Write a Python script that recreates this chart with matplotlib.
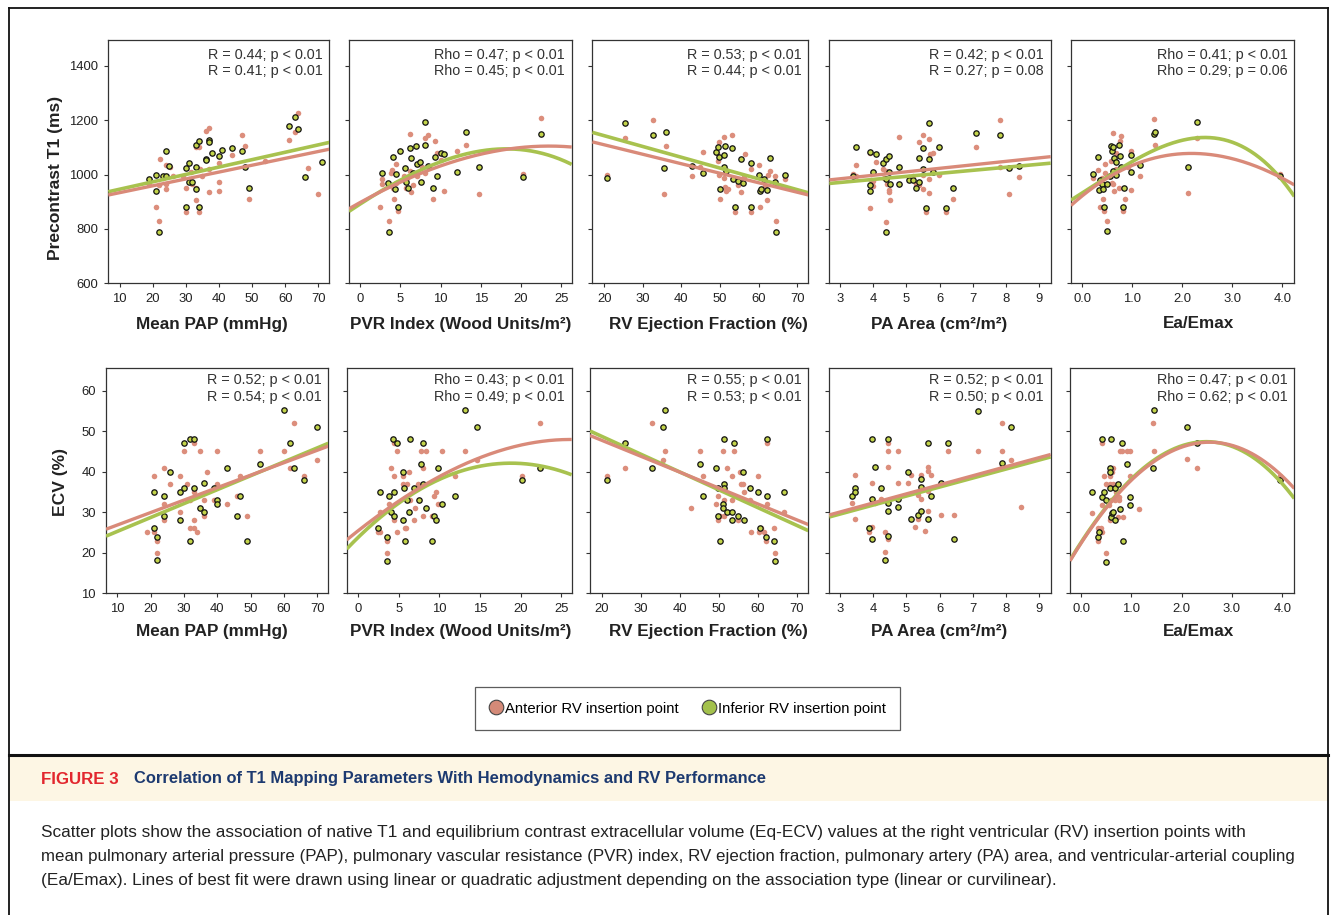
import numpy as np
import matplotlib
matplotlib.use("Agg")
import matplotlib.pyplot as plt
from matplotlib.patches import Rectangle
from matplotlib.lines import Line2D
from matplotlib import font_manager

# ---------------- DATA ----------------
XLABELS = ['Mean PAP (mmHg)', 'PVR Index (Wood Units/m\u00b2)', 'RV Ejection Fraction (%)',
           'PA Area (cm\u00b2/m\u00b2)', 'Ea/Emax']
YLABELS = ['Precontrast T1 (ms)', 'ECV (%)']
XTICKS = [[10, 20, 30, 40, 50, 60, 70], [0, 5, 10, 15, 20, 25], [20, 30, 40, 50, 60, 70],
          [3, 4, 5, 6, 7, 8, 9], [0.0, 1.0, 2.0, 3.0, 4.0]]
YTICKS = [[600, 800, 1000, 1200, 1400], [10, 20, 30, 40, 50, 60]]
STATS_T1 = [("R = 0.44; p < 0.01", "R = 0.41; p < 0.01"),
            ("Rho = 0.47; p < 0.01", "Rho = 0.45; p < 0.01"),
            ("R = 0.53; p < 0.01", "R = 0.44; p < 0.01"),
            ("R = 0.42; p < 0.01", "R = 0.27; p = 0.08"),
            ("Rho = 0.41; p < 0.01", "Rho = 0.29; p = 0.06")]
STATS_ECV = [("R = 0.52; p < 0.01", "R = 0.54; p < 0.01"),
             ("Rho = 0.43; p < 0.01", "Rho = 0.49; p < 0.01"),
             ("R = 0.55; p < 0.01", "R = 0.53; p < 0.01"),
             ("R = 0.52; p < 0.01", "R = 0.50; p < 0.01"),
             ("Rho = 0.47; p < 0.01", "Rho = 0.62; p < 0.01")]
SERIES = ['Anterior RV insertion point', 'Inferior RV insertion point']

# T1 vs mean PAP
T1_PAP_INF_X = [19,21,21,22,23,24,24,25,30,30,31,31,32,33,33,33,34,34,36,36,37,37,38,40,41,44,47,48,49,61,63,64,66,71]
T1_PAP_INF_Y = [984,999,941,790,993,1085,996,1033,1023,880,1043,974,974,947,1029,1109,880,1124,1058,1052,1128,1119,1080,1069,1092,1098,1086,1028,950,1178,1213,1168,990,1045]
T1_PAP_ANT_X = [19,21,22,22.2,21.8,23,24,24,24.1,25.2,26,29,30,30,31,31.5,32,33,33,33,34,34,34.2,35,36,37,37,37,40,40,40,44,47,48,49,54,61,63,64,67,70]
T1_PAP_ANT_Y = [964,880,829,1058,962,989,966,947,1036,1026,993,993,950,864,984,1011,966,908,950,1103,864,1101,1021,994,1162,1171,1022,937,1043,972,939,1071,1144,1106,910,1050,1128,1156,1227,1023,930]
# T1 vs PVR index
T1_PVR_INF_X = [2.7,3.5,3.6,4.1,4.3,4.4,4.75,4.9,5.6,5.7,6.0,6.2,6.3,6.5,6.9,7.0,7.4,7.6,8.0,8.0,8.4,9.05,9.3,9.6,10.0,10.4,12.0,13.2,14.75,20.3,22.5]
T1_PVR_INF_Y = [1004,969,790,1064,947,1001,880,1087,1023,974,952,1099,1060,1007,1104,1038,1048,974,1195,1109,1032,952,1066,996,1080,1075,1009,1158,1027,991,1150]
T1_PVR_ANT_X = [2.5,2.7,2.7,3.6,3.7,3.8,4.0,4.1,4.25,4.4,4.5,4.75,4.9,5.5,5.7,5.8,6.1,6.2,6.2,6.3,6.5,7.0,7.6,7.7,8.0,8.0,8.4,9.05,9.3,9.6,10.0,10.4,12.0,13.2,14.75,20.3,22.5]
T1_PVR_ANT_Y = [881,984,966,831,962,1004,1015,950,909,1039,968,865,1085,993,950,987,993,1013,1151,937,960,995,971,1027,1136,1004,1144,910,1124,1079,1052,941,1086,1108,930,1001,1207]
# T1 vs RV ejection fraction
T1_RVEF_INF_X = [20.7,25.5,32.7,35.9,35.4,42.8,45.6,48.9,49.6,49.8,50.1,51.0,51.0,51.4,51.6,53.2,53.4,53.8,54.6,55.4,56.0,58.1,58.1,60.0,60.3,60.7,61.5,62.2,63.0,64.2,64.4,66.8]
T1_RVEF_INF_Y = [989,1190,1146,1155,1025,1033,1006,1082,1102,1064,948,1071,1027,1104,1014,1097,984,879,978,1059,968,1044,879,999,940,948,983,945,1061,972,790,1000]
T1_RVEF_ANT_X = [20.7,25.5,32.6,35.9,35.4,42.8,44.9,45.6,49.2,49.4,49.8,49.8,50.1,51.0,51.0,51.3,51.6,52.1,53.2,53.8,54.7,55.4,55.8,56.3,56.5,58.1,58.1,60.1,60.3,61.7,62.2,62.4,63.0,64.2,64.4,66.8]
T1_RVEF_ANT_Y = [1000,1133,1202,1104,929,994,1027,1082,1079,1049,1120,999,909,1140,989,956,940,947,1147,864,963,935,971,990,1076,1020,864,1036,879,959,907,998,1012,993,829,984]
# T1 vs PA area
T1_PA_INF_X = [3.38,3.48,3.89,3.89,3.89,3.99,4.09,4.29,4.38,4.38,4.38,4.48,4.48,4.5,4.79,4.79,5.09,5.19,5.29,5.39,5.39,5.49,5.49,5.59,5.68,5.68,5.8,5.99,6.19,6.39,7.09,7.8,8.1,8.4]
T1_PA_INF_Y = [996,1101,1083,963,939,1008,1076,1044,1059,789,982,1069,1010,965,1027,966,979,980,949,1061,974,1096,1020,878,1188,1057,1010,1103,878,949,1153,1145,1024,1033]
T1_PA_ANT_X = [3.38,3.48,3.48,3.89,3.89,3.94,3.99,3.99,4.09,4.29,4.33,4.38,4.4,4.43,4.48,4.48,4.5,4.79,4.79,5.09,5.19,5.29,5.39,5.39,5.49,5.49,5.49,5.59,5.68,5.68,5.68,5.71,5.8,5.99,6.19,6.39,7.09,7.8,7.8,8.1,8.4]
T1_PA_ANT_Y = [1001,1035,994,878,1080,980,958,976,1047,1020,988,827,1013,964,945,937,905,1138,967,992,994,964,1120,961,1147,998,947,864,1131,982,933,1076,1081,998,864,909,1103,1202,1027,928,992]
# T1 vs Ea/Emax
T1_EA_INF_X = [0.21,0.32,0.35,0.34,0.39,0.41,0.43,0.49,0.5,0.56,0.57,0.59,0.61,0.61,0.64,0.68,0.68,0.73,0.76,0.77,0.81,0.84,0.98,0.98,1.16,1.44,1.46,2.12,2.30,3.95]
T1_EA_INF_Y = [1002,1064,981,943,964,948,881,967,791,995,1104,1085,1100,1012,1060,1048,999,1109,1067,1028,881,952,1009,1073,1036,1149,1158,1027,1194,995]
T1_EA_ANT_X = [0.21,0.32,0.35,0.36,0.39,0.41,0.43,0.45,0.45,0.5,0.53,0.56,0.57,0.59,0.59,0.61,0.62,0.64,0.66,0.68,0.68,0.74,0.76,0.78,0.82,0.85,0.92,0.97,0.98,1.16,1.44,1.46,2.12,2.30,3.95]
T1_EA_ANT_Y = [986,1016,881,968,986,910,865,1038,1006,831,994,993,1051,1090,970,1152,964,940,1004,1080,1021,949,1125,1143,865,911,1028,1088,942,996,1206,1107,932,1136,1002]

# ECV vs mean PAP
ECV_PAP_INF_X = [20.9,20.9,21.9,21.9,23.9,23.9,25.9,28.9,28.9,29.9,29.9,31.9,31.9,32.9,32.9,34.9,35.9,35.9,38.9,39.9,39.9,42.9,45.9,46.9,48.9,52.9,59.9,61.9,62.9,65.9,69.9]
ECV_PAP_INF_Y = [26,35,24,18.1,34,29.1,40,35,28,47,36,48.1,23,48.1,36,31,37.1,30,36,33,32,41,29,34,23,42,55.1,47,41,38,51]
ECV_PAP_ANT_X = [18.9,20.9,20.9,21.9,21.9,23.9,23.9,23.9,25.9,28.9,28.9,29.9,30.9,30.9,31.9,31.9,32.9,32.9,32.9,32.9,33.9,34.9,34.9,35.9,35.9,36.9,38.9,39.9,39.9,42.9,45.9,46.9,48.9,52.9,59.9,61.9,62.9,65.9,69.9]
ECV_PAP_ANT_Y = [25,39,25,23,20,41,32,28,37,39,30,45,33,37,33,26,47,35,28,26,25,45,31,33,29,40,33,45,37,32,34,39,29,45,45,41,52,39,43]
# ECV vs PVR index
ECV_PVR_INF_X = [2.45,2.66,3.6,3.6,3.8,4.1,4.33,4.45,4.45,4.78,5.56,5.6,5.56,5.72,6.0,6.3,6.45,6.86,7.5,7.76,7.97,7.97,8.4,9.3,9.6,9.9,9.07,10.3,11.9,13.2,14.7,20.2,22.4]
ECV_PVR_INF_Y = [26,35,24,17.9,34,30,48,35,29,47,40,36,28,22.9,33,30,48,36,33,42,37,47,31,29,28,41,22.9,32,34,55.1,51,38,41]
ECV_PVR_ANT_X = [2.45,2.66,2.66,3.6,3.6,3.8,4.1,4.37,4.45,4.45,4.78,4.78,5.5,5.56,5.72,5.9,6.0,6.2,6.3,6.45,6.86,7.0,7.4,7.5,7.76,7.97,7.97,8.4,9.07,9.3,9.6,9.9,10.3,11.9,13.2,14.7,20.2,22.4]
ECV_PVR_ANT_Y = [25,25,30,23,20,32,41,47,39,28,45,25,39,37,26,26,37,33,40,33,28,31,37,33,45,41,29,45,29,34,35,32,45,39,45,43,39,52]
# ECV vs RV ejection fraction
ECV_RVEF_INF_X = [21.2,25.9,32.8,35.7,36.2,45.0,45.8,49.3,49.8,49.7,50.2,51.0,51.0,51.4,51.4,51.4,52.0,53.3,53.4,53.9,54.8,56.1,56.4,58.0,60.1,60.5,62.0,62.2,62.4,64.1,64.3,66.7]
ECV_RVEF_INF_Y = [38,47,41,51,55.1,42,34,41,36,29,23,32,31,48,37,36,30,30,28,47,29,40,28,36,35,26,24,48,34,23,18,35]
ECV_RVEF_ANT_X = [21.2,25.9,32.8,35.7,36.2,42.9,45.0,45.8,49.3,49.8,49.7,50.2,51.0,51.4,51.4,52.0,53.3,53.4,53.9,54.8,55.4,55.6,56.1,56.4,58.0,58.1,60.1,60.2,60.7,61.6,62.0,62.2,62.4,64.1,64.3,66.7]
ECV_RVEF_ANT_Y = [39,41,52,43,45,31,45,39,32,34,28,29,45,33,29,41,39,33,45,28,40,37,37,35,33,25,39,25,26,25,23,47,32,26,20,30]
# ECV vs PA area
ECV_PA_INF_X = [3.36,3.46,3.46,3.86,3.96,3.96,3.96,4.05,4.25,4.35,4.45,4.45,4.45,4.45,4.75,4.75,5.05,5.15,5.35,5.45,5.45,5.45,5.65,5.65,5.75,6.05,6.24,6.44,7.14,7.86,8.16]
ECV_PA_INF_Y = [34,36,35,26,48,33.2,23.3,41.1,36,18.2,48,32.2,30.2,24.2,33.2,31.2,40,28.3,29.2,38.1,36.2,30.2,47,28.3,34.1,37.1,47,23.3,55,42.1,51]
ECV_PA_ANT_X = [3.36,3.46,3.46,3.86,3.96,3.96,3.96,4.05,4.25,4.35,4.35,4.45,4.45,4.45,4.45,4.75,4.75,5.05,5.15,5.25,5.35,5.35,5.45,5.45,5.55,5.65,5.65,5.65,5.65,5.75,6.05,6.24,6.44,7.14,7.86,7.86,7.86,8.16,8.45]
ECV_PA_ANT_Y = [32.2,39.1,28.3,25.2,37.1,33.2,26.3,32.2,33.2,25.2,20.3,47,45,41.1,23.3,45,37.1,37.1,39.1,26.3,28.3,34.2,39.1,33.2,25.3,41.1,40.1,35.2,30.2,39.1,29.2,45,29.2,45,52,45,41.6,43,31.2]
# ECV vs Ea/Emax
ECV_EA_INF_X = [0.21,0.34,0.36,0.41,0.42,0.45,0.50,0.50,0.57,0.57,0.58,0.59,0.60,0.62,0.64,0.67,0.67,0.74,0.78,0.81,0.84,0.92,0.97,0.97,1.43,1.46,2.11,2.30,3.95]
ECV_EA_INF_Y = [34.9,24,25,48,33.8,34.9,17.8,32.9,41,40,36,28.9,48,29.9,30,36,28.1,37,30.8,47,22.8,42,33.8,31.9,41,55.1,51,47,38]
ECV_EA_ANT_X = [0.21,0.33,0.35,0.34,0.40,0.41,0.42,0.42,0.45,0.50,0.50,0.56,0.57,0.57,0.58,0.60,0.62,0.64,0.64,0.67,0.69,0.74,0.76,0.76,0.78,0.82,0.84,0.92,0.97,0.98,1.15,1.43,1.46,2.11,2.30,3.95]
ECV_EA_ANT_Y = [29.9,26,25,22.8,26,47,25,31.9,38.9,19.9,37,31.9,38.9,28.1,37,32.9,40,37,40.9,32.9,34.9,28.9,33.8,32.9,45,45,28.9,45,45,38.9,30.8,52,45,43.1,41,38.9]

# Fitted lines as (x, y) readings along each line
FIT_T1_PAP_ANT = ([6.7, 73.2], [925, 1093])
FIT_T1_PAP_INF = ([6.7, 73.2], [937, 1118])
FIT_T1_PVR_ANT = ([-1.4, 5, 10, 17.5, 23, 26.3], [876, 964, 1042, 1085, 1105, 1102])
FIT_T1_PVR_INF = ([-1.4, 5, 10, 17.5, 26.3], [866, 974, 1054, 1091, 1038])
FIT_T1_RVEF_ANT = ([16.7, 72.9], [1121, 925])
FIT_T1_RVEF_INF = ([16.7, 72.9], [1156, 933])
FIT_T1_PA_ANT = ([2.65, 9.35], [980, 1066])
FIT_T1_PA_INF = ([2.65, 9.35], [967, 1042])
FIT_T1_EA_ANT = ([-0.22, 1.0, 2.0, 2.2, 3.0, 3.5, 4.0, 4.23], [888, 1026, 1081, 1085, 1057, 1020, 989, 965])
FIT_T1_EA_INF = ([-0.22, 1.0, 2.0, 2.48, 3.0, 3.5, 4.0, 4.23], [907, 1044, 1127, 1142, 1119, 1063, 977, 926])
FIT_ECV_PAP_ANT = ([6.6, 73.3], [25.8, 46.3])
FIT_ECV_PAP_INF = ([6.6, 73.3], [24.1, 47.0])
FIT_ECV_PVR_ANT = ([-1.35, 5, 10, 15, 20, 26.2], [23.3, 32.6, 38.8, 43.7, 46.3, 48.0])
FIT_ECV_PVR_INF = ([-1.35, 5, 10, 15, 19, 22, 26.2], [21.1, 32.0, 38.3, 41.4, 42.1, 41.4, 39.4])
FIT_ECV_RVEF_ANT = ([17.2, 72.8], [48.8, 27.0])
FIT_ECV_RVEF_INF = ([17.2, 72.8], [49.9, 25.5])
FIT_ECV_PA_ANT = ([2.71, 9.32], [29.4, 44.2])
FIT_ECV_PA_INF = ([2.71, 9.32], [28.9, 43.6])
FIT_ECV_EA_ANT = ([-0.23, 1.0, 2.0, 2.5, 3.0, 3.5, 4.0, 4.24], [17.8, 37.8, 46.2, 47.4, 46.2, 43.7, 39.2, 35.7])
FIT_ECV_EA_INF = ([-0.23, 0.5, 1.0, 1.5, 2.0, 2.45, 3.0, 3.5, 4.0, 4.24], [18.2, 30.6, 38.4, 43.7, 46.4, 47.3, 46.0, 42.9, 37.1, 33.4])

CAPTION_TAG = 'FIGURE 3'
CAPTION_TITLE = 'Correlation of T1 Mapping Parameters With Hemodynamics and RV Performance'
CAPTION_LINES = [
    'Scatter plots show the association of native T1 and equilibrium contrast extracellular volume (Eq-ECV) values at the right ventricular (RV) insertion points with',
    'mean pulmonary arterial pressure (PAP), pulmonary vascular resistance (PVR) index, RV ejection fraction, pulmonary artery (PA) area, and ventricular-arterial coupling',
    '(Ea/Emax). Lines of best fit were drawn using linear or quadratic adjustment depending on the association type (linear or curvilinear).',
]

# ---------------- STYLE / LAYOUT ----------------
W, H, DPI = 1335, 915, 100
names = {f.name for f in font_manager.fontManager.ttflist}
SANS = 'Liberation Sans' if 'Liberation Sans' in names else 'DejaVu Sans'
NARROW = 'Liberation Sans Narrow' if 'Liberation Sans Narrow' in names else SANS
plt.rcParams['font.family'] = [SANS, 'DejaVu Sans']

SALMON = '#DC8E7C'
SALMON_LINE = '#D98A79'
GREEN_PT = '#C3D44A'
GREEN_LINE = '#A8C24F'
TXT = '#222222'

fig = plt.figure(figsize=(W / DPI, H / DPI), dpi=DPI)
fig.patch.set_facecolor('white')

def fx(px):
    return px / W

def fy(py):
    return 1 - py / H

ROWS = [dict(top=40, bottom=283.3, lefts=[108.3, 349, 592.3, 829.3, 1071],
             rights=[329.3, 571.7, 808.3, 1050.7, 1294.3], ylim=(600, 1495), stat_off=(15, 31)),
        dict(top=368.3, bottom=593.3, lefts=[106, 346.7, 590, 829.3, 1070],
             rights=[328.3, 571.7, 808.3, 1050.7, 1294.3], ylim=(10, 65.5), stat_off=(11.7, 28.4))]
XLIMS = [(6.6, 73.3), (-1.4, 26.3), (16.9, 72.9), (2.68, 9.34), (-0.22, 4.24)]
XLABEL_X = [212, 461, 708, 939, 1198]
XLABEL_Y = [324, 631.7]
YLABEL_POS = [(55.5, 177.5), (60.7, 482.5)]

POINTS = [
    [(T1_PAP_ANT_X, T1_PAP_ANT_Y, T1_PAP_INF_X, T1_PAP_INF_Y),
     (T1_PVR_ANT_X, T1_PVR_ANT_Y, T1_PVR_INF_X, T1_PVR_INF_Y),
     (T1_RVEF_ANT_X, T1_RVEF_ANT_Y, T1_RVEF_INF_X, T1_RVEF_INF_Y),
     (T1_PA_ANT_X, T1_PA_ANT_Y, T1_PA_INF_X, T1_PA_INF_Y),
     (T1_EA_ANT_X, T1_EA_ANT_Y, T1_EA_INF_X, T1_EA_INF_Y)],
    [(ECV_PAP_ANT_X, ECV_PAP_ANT_Y, ECV_PAP_INF_X, ECV_PAP_INF_Y),
     (ECV_PVR_ANT_X, ECV_PVR_ANT_Y, ECV_PVR_INF_X, ECV_PVR_INF_Y),
     (ECV_RVEF_ANT_X, ECV_RVEF_ANT_Y, ECV_RVEF_INF_X, ECV_RVEF_INF_Y),
     (ECV_PA_ANT_X, ECV_PA_ANT_Y, ECV_PA_INF_X, ECV_PA_INF_Y),
     (ECV_EA_ANT_X, ECV_EA_ANT_Y, ECV_EA_INF_X, ECV_EA_INF_Y)],
]
FITS = [
    [(FIT_T1_PAP_ANT, FIT_T1_PAP_INF), (FIT_T1_PVR_ANT, FIT_T1_PVR_INF),
     (FIT_T1_RVEF_ANT, FIT_T1_RVEF_INF), (FIT_T1_PA_ANT, FIT_T1_PA_INF),
     (FIT_T1_EA_ANT, FIT_T1_EA_INF)],
    [(FIT_ECV_PAP_ANT, FIT_ECV_PAP_INF), (FIT_ECV_PVR_ANT, FIT_ECV_PVR_INF),
     (FIT_ECV_RVEF_ANT, FIT_ECV_RVEF_INF), (FIT_ECV_PA_ANT, FIT_ECV_PA_INF),
     (FIT_ECV_EA_ANT, FIT_ECV_EA_INF)],
]
STATS = [STATS_T1, STATS_ECV]


def smooth(fit, xlim):
    xs, ys = np.asarray(fit[0], float), np.asarray(fit[1], float)
    deg = min(len(xs) - 1, 3)
    coef = np.polyfit(xs, ys, deg)
    xx = np.linspace(xlim[0], xlim[1], 200)
    return xx, np.polyval(coef, xx)


for r, row in enumerate(ROWS):
    for c in range(5):
        L, R = row['lefts'][c], row['rights'][c]
        ax = fig.add_axes([fx(L), fy(row['bottom']), (R - L) / W, (row['bottom'] - row['top']) / H])
        ax.set_xlim(*XLIMS[c])
        ax.set_ylim(*row['ylim'])
        ax_x, ay_y, ix, iy = POINTS[r][c]
        ax.scatter(ax_x, ay_y, s=16, color=SALMON, linewidths=0, zorder=2)
        ax.scatter(ix, iy, s=15, facecolor=GREEN_PT, edgecolor='#111111', linewidths=0.9, zorder=2.5)
        fa, fi = FITS[r][c]
        xx, yy = smooth(fi, XLIMS[c])
        ax.plot(xx, yy, color=GREEN_LINE, lw=2.6, solid_capstyle='butt', zorder=3)
        xx, yy = smooth(fa, XLIMS[c])
        ax.plot(xx, yy, color=SALMON_LINE, lw=2.4, solid_capstyle='butt', zorder=3.1)

        ax.set_xticks(XTICKS[c])
        if c == 4:
            ax.set_xticklabels(['%.1f' % v for v in XTICKS[c]])
        else:
            ax.set_xticklabels(['%d' % v for v in XTICKS[c]])
        ax.set_yticks(YTICKS[r])
        if c == 0:
            ax.set_yticklabels(['%d' % v for v in YTICKS[r]])
        else:
            ax.set_yticklabels([])
        ax.tick_params(direction='out', length=3, width=0.8, labelsize=9.4, pad=4.3,
                       colors='#333333', labelcolor=TXT)
        for sp in ax.spines.values():
            sp.set_linewidth(0.9)
            sp.set_color('#333333')
        s1, s2 = STATS[r][c]
        o1, o2 = row['stat_off']
        ax.annotate(s1, xy=(1, 1), xycoords='axes fraction', xytext=(-6.6, -o1),
                    textcoords='offset pixels', ha='right', va='center', fontsize=10.4, color='#333333')
        ax.annotate(s2, xy=(1, 1), xycoords='axes fraction', xytext=(-6.6, -o2),
                    textcoords='offset pixels', ha='right', va='center', fontsize=10.4, color='#333333')
        fig.text(fx(XLABEL_X[c]), fy(XLABEL_Y[r]), XLABELS[c], ha='center', va='center',
                 fontsize=12.3, fontweight='bold', color=TXT)
    fig.text(fx(YLABEL_POS[r][0]), fy(YLABEL_POS[r][1]), YLABELS[r], rotation=90,
             ha='center', va='center', fontsize=12.6, fontweight='bold', color=TXT)

# Legend
handles = [Line2D([], [], ls='none', marker='o', markersize=10.5, markerfacecolor='#D48A78',
                  markeredgecolor='#444444', markeredgewidth=0.8),
           Line2D([], [], ls='none', marker='o', markersize=10.5, markerfacecolor='#A3C14C',
                  markeredgecolor='#444444', markeredgewidth=0.8)]
leg = fig.legend(handles, SERIES, loc='center', bbox_to_anchor=(fx(687.5), fy(708.5)), ncol=2,
                 fontsize=10.7, frameon=True, fancybox=False, handlelength=0.9, handletextpad=0.15,
                 columnspacing=1.6, borderpad=0.95, borderaxespad=0)
leg.get_frame().set_edgecolor('#333333')
leg.get_frame().set_linewidth(0.9)

# Frame and caption band
fig.add_artist(Rectangle((fx(9), fy(801)), (1328 - 9) / W, (801 - 756) / H, transform=fig.transFigure,
                         facecolor='#FDF6E4', edgecolor='none', zorder=0))
for (x0, y0, x1, y1, lw) in [(9, 8, 1328, 8, 1.3), (9, 8, 9, 915, 1.3), (1328, 8, 1328, 915, 1.3),
                              (9, 755, 1328, 755, 2.2)]:
    fig.add_artist(Line2D([fx(x0), fx(x1)], [fy(y0), fy(y1)], transform=fig.transFigure,
                          color='#111111', lw=lw))

renderer = fig.canvas.get_renderer()

def fit_width(t, target):
    bb = t.get_window_extent(renderer)
    t.set_fontsize(t.get_fontsize() * target / bb.width)

t_tag = fig.text(fx(41), fy(779), CAPTION_TAG, ha='left', va='center', fontsize=10,
                 fontweight='bold', color='#E2272E', family=[NARROW, SANS])
fit_width(t_tag, 78)
t_title = fig.text(fx(134.5), fy(779), CAPTION_TITLE, ha='left', va='center', fontsize=10,
                   fontweight='bold', color='#1D3A70', family=[NARROW, SANS])
fit_width(t_title, 631)
for line, yy, wd in zip(CAPTION_LINES, [832, 856.5, 881], [1210, 1256, 1017]):
    t = fig.text(fx(41), fy(yy), line, ha='left', va='center', fontsize=10, color=TXT,
                 family=[NARROW, SANS])
    fit_width(t, wd)

fig.savefig('out.png', dpi=DPI, facecolor='white')
